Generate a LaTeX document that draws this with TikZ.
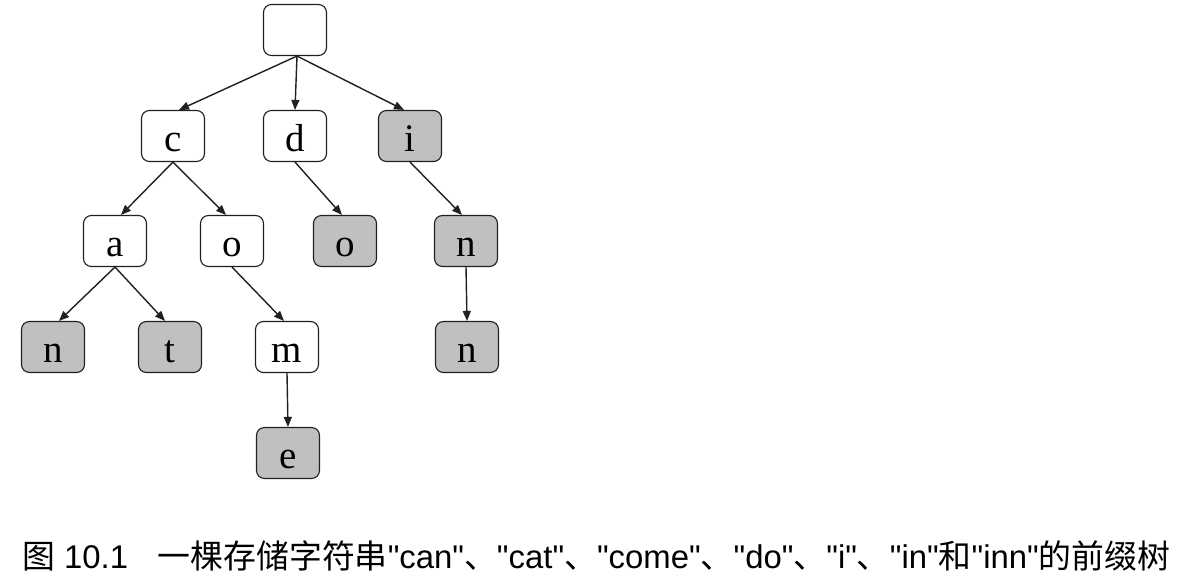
\documentclass[tikz,border=0pt]{standalone}
\usepackage{fontspec}
\setmainfont{Liberation Serif}
\newfontfamily\cjk{Noto Sans CJK SC}
\newfontfamily\lat{Liberation Sans}
\usetikzlibrary{arrows.meta}
\definecolor{leafgray}{HTML}{C0C0C0}
\definecolor{edgecol}{HTML}{202020}
\tikzset{
  trienode/.style={draw=edgecol, line width=1.1pt, rounded corners=8pt, fill=white,
    minimum width=63pt, minimum height=51pt, inner sep=0pt,
    text height=31pt, text depth=0pt, font=\fontsize{39}{42}\selectfont},
  leafnode/.style={trienode, fill=leafgray},
  edge/.style={draw=edgecol, line width=1.4pt, -{Triangle[length=10pt,width=8pt]}}
}
\begin{document}
\begin{tikzpicture}[x=1pt,y=-1pt]
\useasboundingbox (0,0) rectangle (1192,588);
\node[trienode] (root) at (295,30) {};
\node[trienode] (c) at (173,136) {c};
\node[trienode] (d) at (295,136) {d};
\node[leafnode] (i) at (410,136) {i};
\node[trienode] (a) at (115,241) {a};
\node[trienode] (o) at (232,241) {o};
\node[leafnode] (o2) at (345,241) {o};
\node[leafnode] (n1) at (466,241) {n};
\node[leafnode] (n2) at (53,347) {n};
\node[leafnode] (t) at (170,347) {t};
\node[trienode] (m) at (287,347) {m};
\node[leafnode] (n3) at (467,347) {n};
\node[leafnode] (e) at (288,453) {e};
\draw[edge] ([xshift=2pt]root.south) -- ([xshift=6pt]c.north);
\draw[edge] ([xshift=2pt]root.south) -- (d.north);
\draw[edge] ([xshift=2pt]root.south) -- ([xshift=-6pt]i.north);
\draw[edge] (c.south) -- ([xshift=6pt]a.north);
\draw[edge] (c.south) -- ([xshift=-6pt]o.north);
\draw[edge] (d.south) -- ([xshift=-3pt]o2.north);
\draw[edge] (i.south) -- ([xshift=-4pt]n1.north);
\draw[edge] (a.south) -- ([xshift=6pt]n2.north);
\draw[edge] (a.south) -- ([xshift=-5pt]t.north);
\draw[edge] (o.south) -- ([xshift=-3pt]m.north);
\draw[edge] (m.south) -- (e.north);
\draw[edge] (n1.south) -- (n3.north);
\node[anchor=west, inner sep=0pt] (cap) at (22,556) {\resizebox{1148pt}{!}{\fontsize{30}{34}\selectfont\cjk 图\lat{} 10.1\hspace{0.9em}\cjk 一棵存储字符串\lat"can"\cjk 、\lat"cat"\cjk 、\lat"come"\cjk 、\lat"do"\cjk 、\lat"i"\cjk 、\lat"in"\cjk 和\lat"inn"\cjk 的前缀树}};
\end{tikzpicture}
\end{document}
